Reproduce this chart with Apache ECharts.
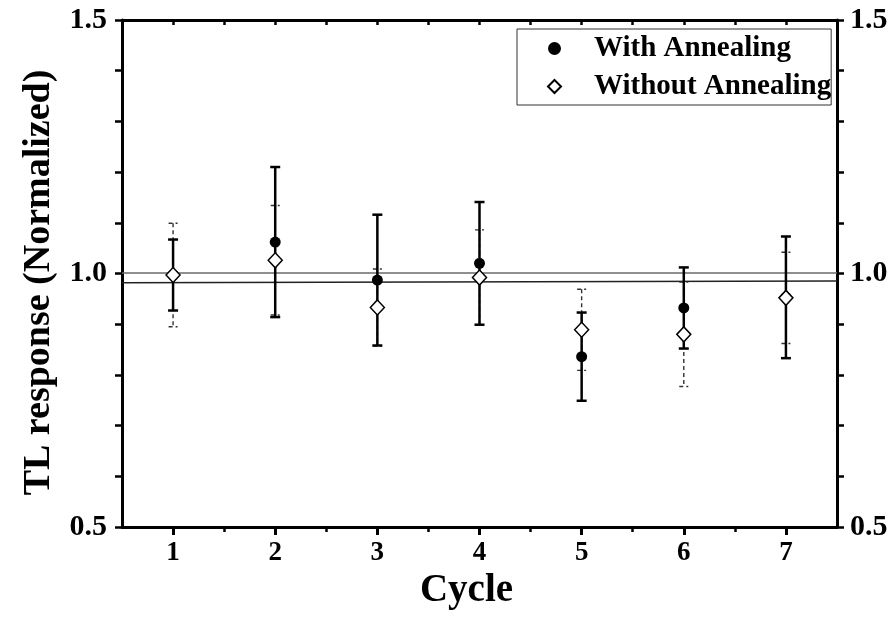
<!DOCTYPE html>
<html>
<head>
<meta charset="utf-8">
<script src="https://cdn.jsdelivr.net/npm/echarts@6/dist/echarts.min.js"></script>
<style>
html,body{margin:0;padding:0;background:#fff;}
#chart{width:891px;height:617px;}
</style>
</head>
<body>
<div id="chart"></div>
<script>
// ---- data ----
var cycles = [1, 2, 3, 4, 5, 6, 7];
var withAnnealing = [0.997, 1.062, 0.987, 1.020, 0.836, 0.932, 0.953];
var withAnnealingErr = [0.070, 0.148, 0.129, 0.121, 0.087, 0.080, 0.120];
var withoutAnnealing = [0.997, 1.026, 0.933, 0.992, 0.889, 0.880, 0.952];
var withoutAnnealingErr = [0.102, 0.108, 0.076, 0.094, 0.080, 0.103, 0.090];
var refX = [0.5, 7.5];
var refUpper = [1.001, 1.001];
var refLower = [0.982, 0.985];
var xTickLabels = [1, 2, 3, 4, 5, 6, 7];
var xHalfTicks = [1.5, 2.5, 3.5, 4.5, 5.5, 6.5];
var xTopTicks = [1, 1.5, 2, 2.5, 3, 3.5, 4, 4.5, 5, 5.5, 6, 6.5, 7];
var yTickLabels = [0.5, 1.0, 1.5];

var FONT = "'Liberation Serif', 'Times New Roman', serif";

function pts(xs, ys) { return xs.map(function (x, i) { return [x, ys[i]]; }); }
function errData(xs, ys, es) { return xs.map(function (x, i) { return [x, ys[i], es[i]]; }); }

function errRender(capHalf, lw, dashed, color) {
  return function (params, api) {
    var x = api.value(0), y = api.value(1), e = api.value(2);
    var top = api.coord([x, y + e]);
    var bot = api.coord([x, y - e]);
    var style = { stroke: color, lineWidth: lw, lineDash: dashed ? [4, 3] : null };
    return {
      type: 'group',
      children: [
        { type: 'line', shape: { x1: top[0], y1: top[1], x2: bot[0], y2: bot[1] }, style: style },
        { type: 'line', shape: { x1: top[0] - capHalf, y1: top[1], x2: top[0] + capHalf, y2: top[1] }, style: style },
        { type: 'line', shape: { x1: bot[0] - capHalf, y1: bot[1], x2: bot[0] + capHalf, y2: bot[1] }, style: style }
      ]
    };
  };
}

var axisLineStyle = { color: '#000', width: 3 };
var chart = echarts.init(document.getElementById('chart'), null, { renderer: 'canvas' });
chart.setOption({
  backgroundColor: '#fff',
  animation: false,
  grid: { left: 122, right: 54, top: 20, bottom: 90, containLabel: false },
  legend: {
    data: [
      { name: 'With Annealing', icon: 'circle' },
      { name: 'Without Annealing', icon: 'diamond' }
    ],
    orient: 'vertical',
    left: 517, top: 29,
    padding: [5, 0, 4, 30],
    itemGap: 9,
    itemWidth: 13, itemHeight: 13,
    symbolKeepAspect: true,
    borderColor: '#333', borderWidth: 1,
    textStyle: { fontFamily: FONT, fontWeight: 'bold', fontSize: 29, color: '#000', padding: [0, 0, 0, 28] }
  },
  xAxis: [
    {
      type: 'value', position: 'bottom', min: 0.5, max: 7.5, interval: 0.5,
      name: 'Cycle', nameLocation: 'middle', nameGap: 42,
      nameTextStyle: { fontFamily: FONT, fontWeight: 'bold', fontSize: 39, color: '#000', padding: [0, 26, 0, 0] },
      axisLine: { show: true, lineStyle: axisLineStyle },
      axisTick: { show: true, inside: false, length: 8, lineStyle: { color: '#000', width: 3 }, customValues: xTickLabels },
      axisLabel: { show: true, margin: 13, fontFamily: FONT, fontWeight: 'bold', fontSize: 27, color: '#000', customValues: xTickLabels },
      splitLine: { show: false }
    },
    {
      type: 'value', position: 'top', min: 0.5, max: 7.5, interval: 0.5,
      axisLine: { show: true, lineStyle: axisLineStyle },
      axisTick: { show: true, inside: true, length: 5, lineStyle: { color: '#000', width: 2.5 }, customValues: xTopTicks },
      axisLabel: { show: false },
      splitLine: { show: false }
    },
    {
      type: 'value', position: 'bottom', offset: 0, min: 0.5, max: 7.5, interval: 0.5,
      axisLine: { show: false },
      axisTick: { show: true, inside: false, length: 5, lineStyle: { color: '#000', width: 2.5 }, customValues: xHalfTicks },
      axisLabel: { show: false },
      splitLine: { show: false }
    }
  ],
  yAxis: [
    {
      type: 'value', position: 'left', min: 0.5, max: 1.5, interval: 0.1,
      name: 'TL response (Normalized)', nameLocation: 'middle', nameGap: 64,
      nameTextStyle: { fontFamily: FONT, fontWeight: 'bold', fontSize: 38, color: '#000', padding: [0, 18, 0, 0] },
      axisLine: { show: true, lineStyle: axisLineStyle },
      axisTick: { show: true, inside: false, length: 7, lineStyle: { color: '#000', width: 2.5 } },
      axisLabel: { show: true, margin: 15, fontFamily: FONT, fontWeight: 'bold', fontSize: 30, color: '#000',
        customValues: yTickLabels, formatter: function (v) { return Number(v).toFixed(1); } },
      splitLine: { show: false }
    },
    {
      type: 'value', position: 'right', min: 0.5, max: 1.5, interval: 0.1,
      axisLine: { show: true, lineStyle: axisLineStyle },
      axisTick: { show: true, inside: false, length: 7, lineStyle: { color: '#000', width: 2.5 } },
      axisLabel: { show: true, margin: 13, fontFamily: FONT, fontWeight: 'bold', fontSize: 30, color: '#000',
        customValues: yTickLabels, formatter: function (v) { return Number(v).toFixed(1); } },
      splitLine: { show: false }
    }
  ],
  series: [
    { name: 'ref1', type: 'line', data: pts(refX, refUpper), showSymbol: false, symbol: 'none',
      lineStyle: { color: '#6a6a6a', width: 1.5 }, z: 1, silent: true },
    { name: 'ref2', type: 'line', data: pts(refX, refLower), showSymbol: false, symbol: 'none',
      lineStyle: { color: '#222', width: 1.5 }, z: 1, silent: true },
    { name: 'errWithout', type: 'custom', data: errData(cycles, withoutAnnealing, withoutAnnealingErr),
      renderItem: errRender(4.5, 1.4, true, '#333'), encode: { x: 0, y: 1 }, z: 2, silent: true },
    { name: 'errWith', type: 'custom', data: errData(cycles, withAnnealing, withAnnealingErr),
      renderItem: errRender(5, 2.5, false, '#000'), encode: { x: 0, y: 1 }, z: 3, silent: true },
    { name: 'With Annealing', type: 'scatter', data: pts(cycles, withAnnealing),
      symbol: 'circle', symbolSize: 11, itemStyle: { color: '#000', opacity: 1 }, z: 4 },
    { name: 'Without Annealing', type: 'scatter', data: pts(cycles, withoutAnnealing),
      symbol: 'diamond', symbolSize: [14, 15], symbolKeepAspect: true,
      itemStyle: { color: '#fff', borderColor: '#000', borderWidth: 1.5, opacity: 1 }, z: 5 }
  ]
});
</script>
</body>
</html>
